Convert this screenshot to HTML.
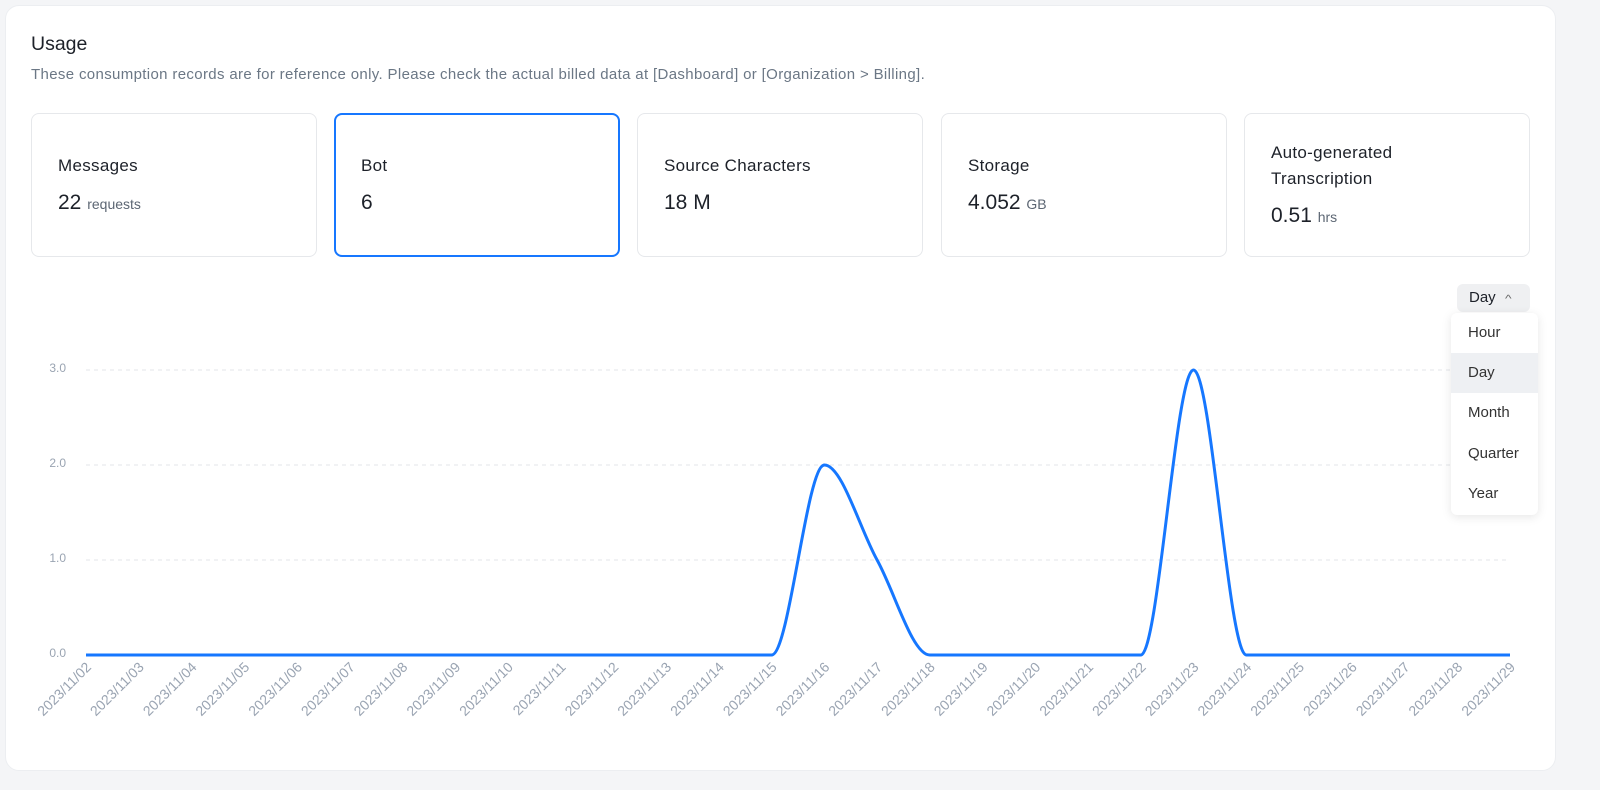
<!DOCTYPE html>
<html><head><meta charset="utf-8"><style>
*{box-sizing:border-box;margin:0;padding:0}
body{width:1600px;height:790px;background:#f4f5f7;font-family:"Liberation Sans",sans-serif;position:relative;overflow:hidden}
.main{position:absolute;left:5px;top:5px;width:1551px;height:766px;background:#fff;border:1px solid #eceef1;border-radius:14px}
.abs{position:absolute}
.card{position:absolute;top:113px;width:286px;height:144px;border:1px solid #e6e8eb;border-radius:8px;background:#fff}
.card.sel{border:2px solid #1677ff}
.lab{position:absolute;left:26px;font-size:17px;letter-spacing:0.3px;color:#1d2129;line-height:26px}
.val{position:absolute;left:26px;font-size:21px;color:#1d2129}
.val span{font-size:14px;color:#5c6673}
.dd{position:absolute;left:1451px;top:313px;width:87px;height:202px;background:#fff;border-radius:6px;box-shadow:0 2px 10px rgba(0,0,0,.1)}
.it{position:absolute;left:0;width:87px;height:40px;line-height:40px;padding-left:17px;font-size:15px;color:#333}
</style></head><body>
<div class="main"></div>
<div class="abs" style="left:31px;top:33px;font-size:19.5px;color:#1d2129">Usage</div>
<div class="abs" style="left:31px;top:66px;font-size:15px;letter-spacing:0.35px;color:#6b7785">These consumption records are for reference only. Please check the actual billed data at [Dashboard] or [Organization &gt; Billing].</div>

<div class="card" style="left:31px"><div class="lab" style="top:39px">Messages</div><div class="val" style="top:77px">22 <span>requests</span></div></div>
<div class="card sel" style="left:334px"><div class="lab" style="top:38px;left:25px">Bot</div><div class="val" style="top:76px;left:25px">6</div></div>
<div class="card" style="left:637px"><div class="lab" style="top:39px">Source Characters</div><div class="val" style="top:77px">18 M</div></div>
<div class="card" style="left:941px"><div class="lab" style="top:39px">Storage</div><div class="val" style="top:77px">4.052 <span>GB</span></div></div>
<div class="card" style="left:1244px"><div class="lab" style="top:26px">Auto-generated<br>Transcription</div><div class="val" style="top:90px">0.51 <span>hrs</span></div></div>

<svg class="abs" style="left:0;top:0" width="1600" height="790">
<g stroke="#e3e6ea" stroke-dasharray="4,4" stroke-width="1">
<line x1="86" y1="370" x2="1510" y2="370"/><line x1="86" y1="465" x2="1510" y2="465"/><line x1="86" y1="560" x2="1510" y2="560"/>
</g>
<g font-size="12" fill="#9aa4b2" text-anchor="end" font-family="Liberation Sans,sans-serif">
<text x="66" y="372">3.0</text><text x="66" y="467">2.0</text><text x="66" y="562">1.0</text><text x="66" y="657">0.0</text>
</g>
<path d="M86,655 L771.6,655 C789.2,655 806.8,465 824.4,465 C842,465 859.5,528.3 877.1,560 C894.7,591.7 912.2,655 929.8,655 L1140.8,655 C1158.4,655 1175.9,370 1193.5,370 C1211.1,370 1228.7,655 1246.3,655 L1510,655" fill="none" stroke="#1677ff" stroke-width="3"/>
<g font-size="14" fill="#9aa4b2" text-anchor="end" font-family="Liberation Sans,sans-serif">
<text transform="translate(92,668) rotate(-45)">2023/11/02</text>
<text transform="translate(144.7,668) rotate(-45)">2023/11/03</text>
<text transform="translate(197.5,668) rotate(-45)">2023/11/04</text>
<text transform="translate(250.2,668) rotate(-45)">2023/11/05</text>
<text transform="translate(303,668) rotate(-45)">2023/11/06</text>
<text transform="translate(355.7,668) rotate(-45)">2023/11/07</text>
<text transform="translate(408.4,668) rotate(-45)">2023/11/08</text>
<text transform="translate(461.2,668) rotate(-45)">2023/11/09</text>
<text transform="translate(513.9,668) rotate(-45)">2023/11/10</text>
<text transform="translate(566.7,668) rotate(-45)">2023/11/11</text>
<text transform="translate(619.4,668) rotate(-45)">2023/11/12</text>
<text transform="translate(672.1,668) rotate(-45)">2023/11/13</text>
<text transform="translate(724.9,668) rotate(-45)">2023/11/14</text>
<text transform="translate(777.6,668) rotate(-45)">2023/11/15</text>
<text transform="translate(830.4,668) rotate(-45)">2023/11/16</text>
<text transform="translate(883.1,668) rotate(-45)">2023/11/17</text>
<text transform="translate(935.8,668) rotate(-45)">2023/11/18</text>
<text transform="translate(988.6,668) rotate(-45)">2023/11/19</text>
<text transform="translate(1041.3,668) rotate(-45)">2023/11/20</text>
<text transform="translate(1094.1,668) rotate(-45)">2023/11/21</text>
<text transform="translate(1146.8,668) rotate(-45)">2023/11/22</text>
<text transform="translate(1199.5,668) rotate(-45)">2023/11/23</text>
<text transform="translate(1252.3,668) rotate(-45)">2023/11/24</text>
<text transform="translate(1305,668) rotate(-45)">2023/11/25</text>
<text transform="translate(1357.8,668) rotate(-45)">2023/11/26</text>
<text transform="translate(1410.5,668) rotate(-45)">2023/11/27</text>
<text transform="translate(1463.2,668) rotate(-45)">2023/11/28</text>
<text transform="translate(1516,668) rotate(-45)">2023/11/29</text>
</g>
</svg>

<div class="abs" style="left:1457px;top:284px;width:73px;height:28px;background:#eff0f2;border-radius:6px;font-size:15px;color:#1d2129;line-height:28px;padding-left:12px">Day <span style="font-size:10px;color:#666;margin-left:6px;display:inline-block;transform:scaleX(1.4)">^</span></div>
<div class="dd">
<div class="it" style="top:0">Hour</div>
<div class="it" style="top:40px;background:#eef0f3">Day</div>
<div class="it" style="top:80px">Month</div>
<div class="it" style="top:121px">Quarter</div>
<div class="it" style="top:161px">Year</div>
</div>
</body></html>
